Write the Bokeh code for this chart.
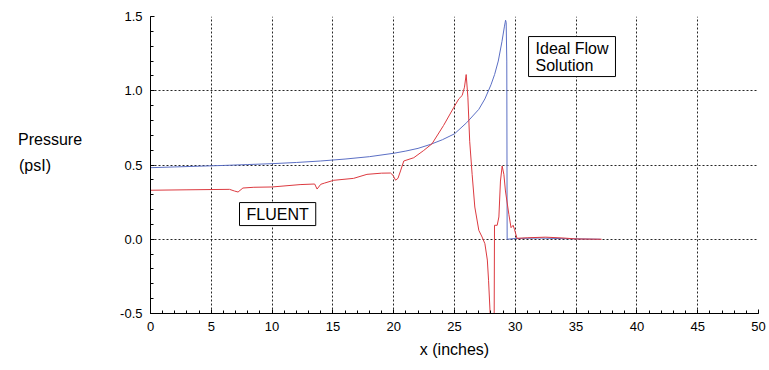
from bokeh.plotting import figure
from bokeh.models import Label, Range1d, SingleIntervalTicker, NumeralTickFormatter
from bokeh.embed import file_html
from bokeh.resources import INLINE

# Ideal flow solution (blue)
ideal_x = [0, 2, 4, 6, 8, 10, 12, 14, 16, 18, 20, 21, 22, 23, 24, 25, 26, 26.5, 27, 27.5,
           28, 28.3, 28.6, 28.9, 29.1, 29.2, 29.25, 29.3, 29.33, 30, 32, 34, 37]
ideal_y = [0.482, 0.487, 0.492, 0.497, 0.503, 0.509, 0.517, 0.527, 0.540, 0.556, 0.579, 0.594,
           0.612, 0.638, 0.670, 0.710, 0.785, 0.830, 0.875, 0.945, 1.04, 1.11, 1.20, 1.33,
           1.43, 1.475, 1.46, 1.20, 0.0, 0.005, 0.008, 0.004, 0.0]

# FLUENT (red)
fluent_x = [0, 3, 6.5, 6.9, 7.2, 7.6, 8.5, 10, 12.3, 13.5, 13.7, 14.0, 14.3, 15.07, 16.7, 17.8,
            19.0, 19.74, 19.95, 20.15, 20.35, 20.56, 20.83, 21.65, 22.47, 23.15, 24.1, 24.95,
            25.36, 25.63, 25.82, 25.96, 26.1, 26.25, 26.45, 26.67, 27.0, 27.27, 27.5, 27.7,
            27.8, 27.96, 28.05, 28.25, 28.29, 28.51, 28.65, 28.78, 28.92, 29.06, 29.19, 29.47,
            29.65, 29.82, 29.93, 30.14, 31, 32.5, 34, 35, 37.1]
fluent_y = [0.33, 0.333, 0.336, 0.325, 0.318, 0.345, 0.35, 0.352, 0.368, 0.372, 0.338, 0.37,
            0.378, 0.397, 0.41, 0.437, 0.445, 0.446, 0.43, 0.398, 0.41, 0.46, 0.527, 0.549,
            0.598, 0.643, 0.766, 0.889, 0.946, 0.968, 1.024, 1.109, 0.957, 0.66, 0.437, 0.217,
            0.06, 0.015, -0.03, -0.14, -0.276, -0.55, -0.8, -0.8, 0.094, 0.094, 0.15, 0.392,
            0.493, 0.437, 0.325, 0.168, 0.078, 0.094, 0.067, 0.006, 0.01, 0.014, 0.008, 0.002, 0.0]

FONT = "Liberation Sans"

p = figure(frame_width=608, frame_height=297, output_backend="svg", toolbar_location=None,
           x_range=Range1d(0, 50), y_range=Range1d(-0.5, 1.5),
           min_border_left=150, min_border_right=10, min_border_top=16, min_border_bottom=49)
p.outline_line_color = None
p.background_fill_color = "white"

p.line(ideal_x, ideal_y, line_color="#5b6fc4", line_width=1)
p.line(fluent_x, fluent_y, line_color="#dc3a40", line_width=1)

p.xaxis.ticker = SingleIntervalTicker(interval=5, num_minor_ticks=5)
p.yaxis.ticker = SingleIntervalTicker(interval=0.5, num_minor_ticks=5)
p.yaxis.formatter = NumeralTickFormatter(format="0.0")

for ax in (p.xaxis[0], p.yaxis[0]):
    ax.major_tick_in = 4
    ax.major_tick_out = 0
    ax.minor_tick_in = 3
    ax.minor_tick_out = 0
    ax.axis_line_color = "black"
    ax.major_tick_line_color = "black"
    ax.minor_tick_line_color = "black"
    ax.major_label_text_font = FONT
    ax.major_label_text_font_size = "13px"
    ax.major_label_text_color = "black"
    ax.axis_label_text_font = FONT
    ax.axis_label_text_font_size = "16px"
    ax.axis_label_text_font_style = "normal"
    ax.axis_label_text_color = "black"

p.xaxis.axis_label = "x (inches)"
p.xaxis.major_label_standoff = 8
p.xaxis.axis_label_standoff = 7
p.yaxis.major_label_standoff = 8

# y-axis title: horizontal, two lines, second line padded so both start at the left;
# a blank third line lifts the block slightly above the frame's centre
p.yaxis.axis_label = "Pressure\n(psI)" + "\u00a0" * 7 + "\n\u00a0"
p.yaxis.axis_label_orientation = "horizontal"
p.yaxis.axis_label_standoff = 35
p.yaxis.axis_label_text_line_height = 1.5

for g in (p.xgrid[0], p.ygrid[0]):
    g.grid_line_color = "black"
    g.grid_line_dash = "2 2"
    g.grid_line_width = 1
    g.grid_line_alpha = 0.85

p.add_layout(Label(x=31.09, y=1.365, text="Ideal Flow\nSolution", anchor="top_left",
                   text_font=FONT, text_font_size="16px", text_color="black",
                   text_line_height=1.0,
                   border_line_color="black", border_line_width=1,
                   background_fill_color="white", padding=(7, 3)))
p.add_layout(Label(x=7.32, y=0.247, text="FLUENT", anchor="top_left",
                   text_font=FONT, text_font_size="16px", text_color="black",
                   text_line_height=1.0,
                   border_line_color="black", border_line_width=1,
                   background_fill_color="white", padding=(7, 3)))

open("out.html", "w").write(file_html(p, INLINE))
